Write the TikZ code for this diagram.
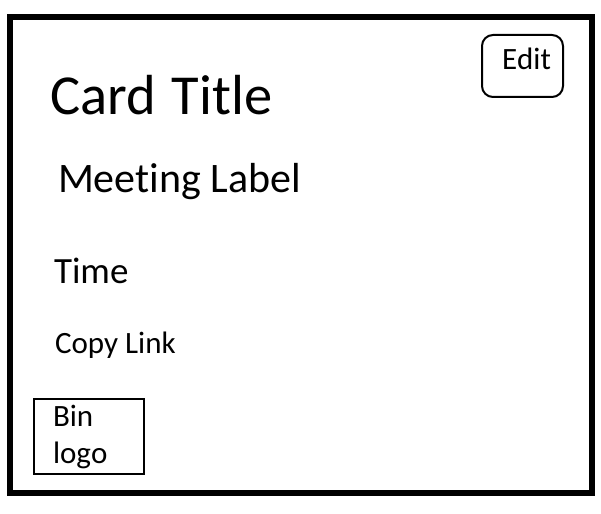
\documentclass[tikz,border=0pt]{standalone}
\usepackage{fontspec}
\setmainfont{Carlito}[Ligatures={NoCommon},Kerning=Off]
\newfontfamily\titlefont{Carlito}[Ligatures={NoCommon},Kerning=Off,WordSpace=1.2]
\begin{document}
\begin{tikzpicture}[x=1pt,y=-1pt,
  lbl/.style={anchor=base west,inner sep=0pt,outer sep=0pt,text=black},
  frame/.style={draw=black,line width=6pt},
  thinbox/.style={draw=black,line width=2pt}]
\useasboundingbox (0,0) rectangle (601,513);
\draw[frame] (10,17) rectangle (592,493);
\node[lbl,font=\titlefont\fontsize{56.5}{62}\selectfont] (title) at (50,115) {Card Title};
\node[lbl,font=\fontsize{42}{48}\selectfont] (meeting) at (58,192) {Meeting Label};
\node[lbl,font=\fontsize{37}{42}\selectfont] (time) at (54,283) {Time};
\node[lbl,font=\fontsize{31}{36}\selectfont] (copy) at (55,353) {Copy Link};
\draw[thinbox,rounded corners=11pt] (482,35) rectangle (563,97);
\node[lbl,font=\fontsize{31}{36}\selectfont] (edit) at (502,70) {Edit};
\draw[thinbox] (34,399) rectangle (144,474);
\node[lbl,font=\fontsize{31}{36}\selectfont] (bin) at (53,426) {Bin};
\node[lbl,font=\fontsize{31}{36}\selectfont] (logo) at (53,463) {logo};
\end{tikzpicture}
\end{document}
